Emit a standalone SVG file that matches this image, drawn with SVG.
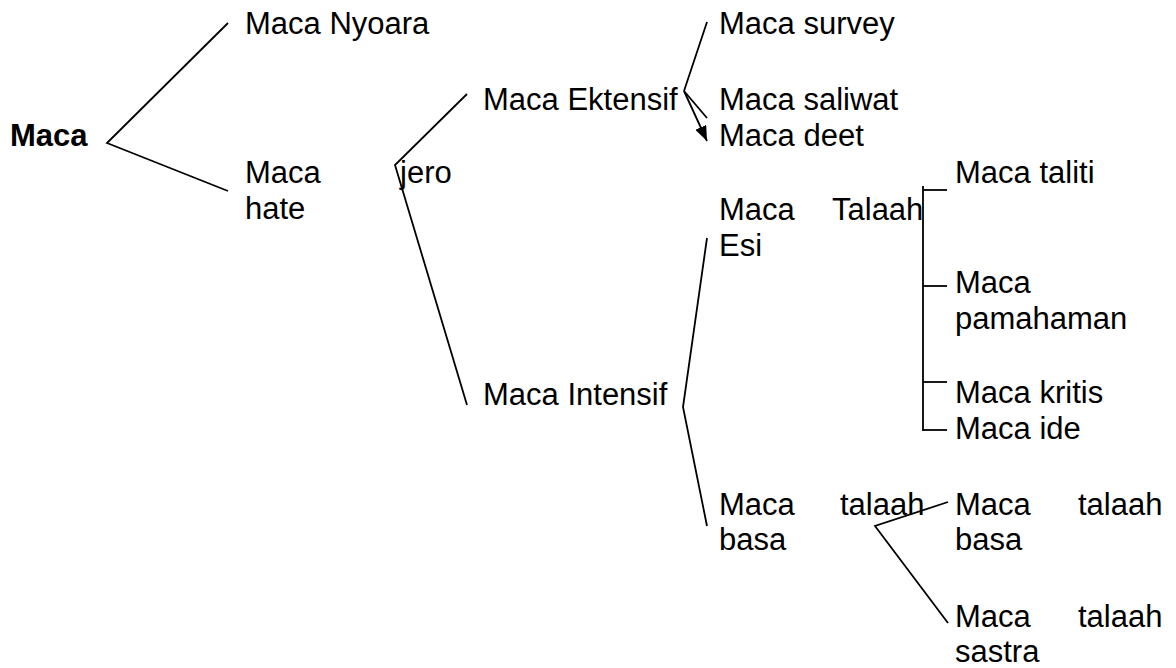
<svg xmlns="http://www.w3.org/2000/svg" width="1176" height="668" viewBox="0 0 1176 668">
<style>
text{font-family:"Liberation Sans",Arial,sans-serif;font-size:31px;fill:#000}
.b{font-weight:bold}
.c{fill:none;stroke:#000;stroke-width:1.8}
</style>
<defs>
<marker id="ah" markerUnits="userSpaceOnUse" markerWidth="15" markerHeight="12" viewBox="0 0 15 12" refX="15" refY="6" orient="auto">
<path d="M0,0 L15,6 L0,12 z" fill="#000"/>
</marker>
</defs>
<rect width="1176" height="668" fill="#fff"/>
<g id="connectors">
<polyline class="c" points="228,23 107,143 228,191"/>
<polyline class="c" points="467,94 395,165 467,405"/>
<line class="c" x1="707" y1="22" x2="684" y2="91"/>
<line class="c" x1="684" y1="91" x2="707" y2="118"/>
<line class="c" x1="684" y1="91" x2="707" y2="141" marker-end="url(#ah)"/>
<polyline class="c" points="707,238 683,407 707,526"/>
<line class="c" x1="923" y1="186" x2="923" y2="431"/>
<line class="c" x1="923" y1="190" x2="947" y2="190"/>
<line class="c" x1="923" y1="286" x2="947" y2="286"/>
<line class="c" x1="923" y1="382" x2="947" y2="382"/>
<line class="c" x1="923" y1="430" x2="947" y2="430"/>
<polyline class="c" points="948,502 875,526 948,623"/>
</g>
<g id="n-maca"><text class="b" x="10" y="146">Maca</text></g>
<g id="n-nyoara"><text x="245" y="34">Maca Nyoara</text></g>
<g id="n-hate"><text x="245" y="183">Maca</text><text x="400" y="183">jero</text><text x="245" y="219">hate</text></g>
<g id="n-ektensif"><text x="483" y="110">Maca Ektensif</text></g>
<g id="n-intensif"><text x="483" y="405">Maca Intensif</text></g>
<g id="n-survey"><text x="719" y="34">Maca survey</text></g>
<g id="n-saliwat"><text x="719" y="110">Maca saliwat</text></g>
<g id="n-deet"><text x="719" y="146">Maca deet</text></g>
<g id="n-talaah-esi"><text x="719" y="220">Maca</text><text x="832" y="220">Talaah</text><text x="719" y="256">Esi</text></g>
<g id="n-taliti"><text x="955" y="183">Maca taliti</text></g>
<g id="n-pamahaman"><text x="955" y="293">Maca</text><text x="955" y="329">pamahaman</text></g>
<g id="n-kritis"><text x="955" y="403">Maca kritis</text></g>
<g id="n-ide"><text x="955" y="439">Maca ide</text></g>
<g id="n-talaah-basa"><text x="719" y="515">Maca</text><text x="840" y="515">talaah</text><text x="719" y="550">basa</text></g>
<g id="n-talaah-basa2"><text x="955" y="515">Maca</text><text x="1078" y="515">talaah</text><text x="955" y="550">basa</text></g>
<g id="n-talaah-sastra"><text x="955" y="627">Maca</text><text x="1078" y="627">talaah</text><text x="955" y="662">sastra</text></g>
</svg>
